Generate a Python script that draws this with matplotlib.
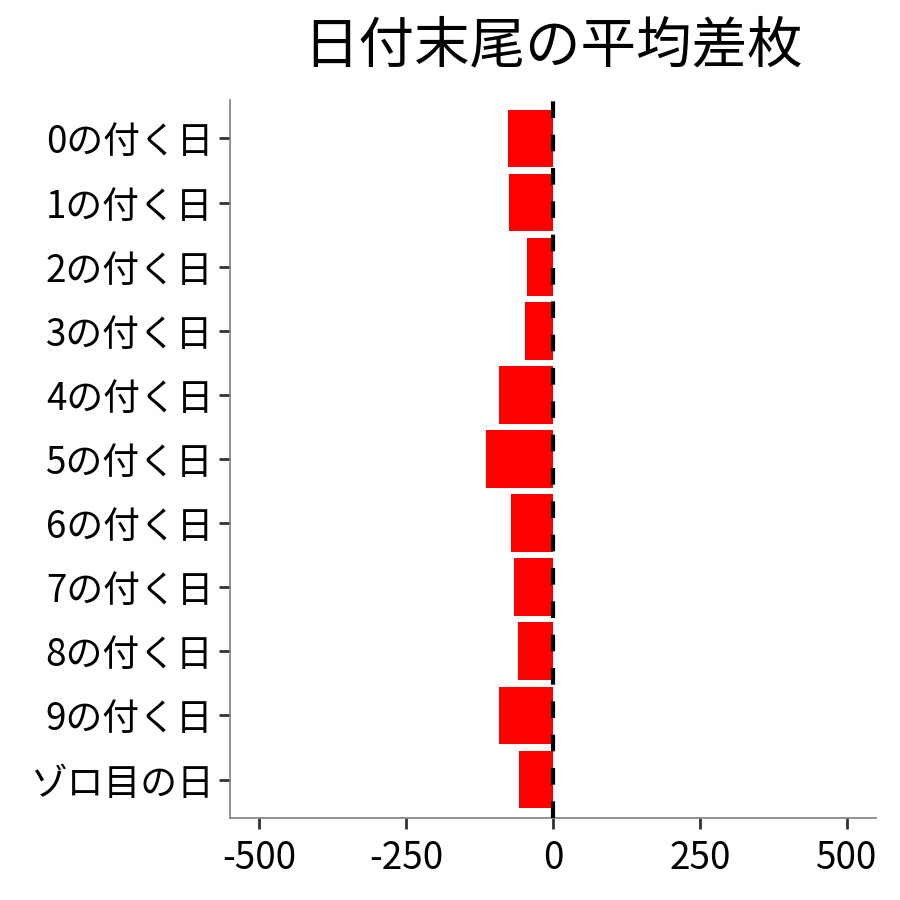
import matplotlib.pyplot as plt
import numpy as np

plt.rcParams['font.family'] = ['Noto Sans CJK JP', 'DejaVu Sans']
plt.rcParams['axes.unicode_minus'] = False

# データ
categories = ['0の付く日', '1の付く日', '2の付く日', '3の付く日', '4の付く日',
              '5の付く日', '6の付く日', '7の付く日', '8の付く日', '9の付く日', 'ゾロ目の日']
avg_diff = [-76, -75, -44, -48, -92, -114, -71, -66, -60, -92, -58]
xticks = [-500, -250, 0, 250, 500]

fig = plt.figure(figsize=(9, 9), dpi=100)
ax = fig.add_axes([230 / 900, 82 / 900, 646 / 900, 718 / 900])

# 上から順に並べる
y = np.arange(len(categories))[::-1] + 1
ax.barh(y, avg_diff, height=0.9, color='#ff0000', zorder=2)
ax.axvline(0, color='black', linewidth=3, dashes=(4, 4), zorder=3)

ax.set_xlim(-550, 550)
ax.set_ylim(0.4, len(categories) + 0.6)
ax.set_xticks(xticks)
ax.set_xticklabels([str(v) for v in xticks])
ax.set_yticks(y)
ax.set_yticklabels(categories)

for s in ['top', 'right']:
    ax.spines[s].set_visible(False)
for s in ['left', 'bottom']:
    ax.spines[s].set_color('#7f7f7f')
    ax.spines[s].set_linewidth(1.2)
ax.tick_params(axis='both', length=8, width=2, color='#333333', labelsize=26.5)
ax.tick_params(axis='y', pad=4)
ax.tick_params(axis='x', pad=7)

fig.text(553 / 900, 1 - 46 / 900, '日付末尾の平均差枚', ha='center', va='center', fontsize=40)

plt.savefig('out.png', dpi=100)
